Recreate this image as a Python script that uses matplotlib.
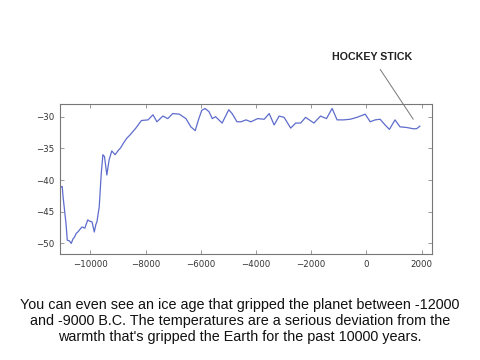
import matplotlib
matplotlib.use("Agg")
import matplotlib.pyplot as plt

years = [-11063, -11020, -10990, -10884, -10836, -10760, -10693, -10630, -10573, -10510, -10454,
         -10380, -10300, -10200, -10096, -10020, -9940, -9857, -9800, -9761, -9678, -9606, -9546,
         -9487, -9403, -9320, -9224, -9104, -8985, -8900, -8806, -8680, -8567, -8352, -8149, -7910,
         -7731, -7588, -7373, -7194, -7015, -6776, -6537, -6358, -6200, -6084, -5964, -5845, -5701,
         -5582, -5463, -5224, -4985, -4865, -4686, -4540, -4360, -4180, -3940, -3700, -3520, -3340,
         -3160, -2980, -2740, -2560, -2380, -2200, -1900, -1660, -1444, -1240, -1060, -820, -580,
         -340, -40, 140, 320, 500, 680, 836, 1040, 1220, 1460, 1700, 1820, 1940]
temps = [-41.1, -41.0, -42.6, -46.8, -49.5, -49.6, -50.0, -49.3, -49.0, -48.4, -48.2,
         -47.8, -47.4, -47.6, -46.3, -46.5, -46.6, -48.2, -47.0, -46.6, -44.2, -39.0, -36.0,
         -36.3, -39.2, -36.8, -35.4, -36.0, -35.3, -34.9, -34.2, -33.4, -32.9, -31.8, -30.6, -30.5,
         -29.7, -30.8, -29.9, -30.3, -29.5, -29.6, -30.3, -31.6, -32.2, -30.5, -29.0, -28.7, -29.2,
         -30.3, -30.0, -31.0, -28.9, -29.5, -30.8, -30.8, -30.5, -30.8, -30.3, -30.4, -29.5, -31.3,
         -29.9, -30.1, -31.8, -31.0, -31.0, -30.1, -31.0, -29.9, -30.3, -28.7, -30.5, -30.5, -30.4,
         -30.1, -29.6, -30.8, -30.5, -30.4, -31.3, -32.0, -30.5, -31.6, -31.7, -31.9, -31.9, -31.5]
xticks = [-10000, -8000, -6000, -4000, -2000, 0, 2000]
yticks = [-50, -45, -40, -35, -30]

fig = plt.figure(figsize=(4.8, 3.6), dpi=100)
ax = fig.add_axes([0.125, 0.294, 0.775, 0.417])
ax.plot(years, temps, color="#5e6ccc", linewidth=0.9)
ax.set_xlim(-11100, 2380)
ax.set_ylim(-51.7, -28.0)
ax.set_xticks(xticks)
ax.set_yticks(yticks)
ax.set_xticklabels([("\u2212" + str(-t)) if t < 0 else str(t) for t in xticks])
ax.set_yticklabels([("\u2212" + str(-t)) for t in yticks])
ax.tick_params(direction="in", length=3, width=0.6, color="#888888", labelsize=6.2,
               labelcolor="#333333", top=True, right=True, pad=4)
for s in ax.spines.values():
    s.set_color("#777777")
    s.set_linewidth(0.8)

ax.annotate("HOCKEY STICK", xy=(1700, -30.4), xycoords="data",
            xytext=(372, 360 - 57), textcoords="figure pixels",
            ha="center", va="center", fontsize=7.7, fontweight="bold",
            family="Liberation Sans", color="#222222",
            arrowprops=dict(arrowstyle="-", color="#777777", lw=0.7,
                            shrinkA=4, shrinkB=0))

caption = ("You can even see an ice age that gripped the planet between -12000\n"
           "and -9000 B.C. The temperatures are a serious deviation from the\n"
           "warmth that's gripped the Earth for the past 10000 years.")
fig.text(0.5, 1 - 321 / 360, caption, ha="center", va="center", fontsize=10.4,
         family="Liberation Sans", color="#111111", linespacing=1.2)

fig.savefig("out.png", dpi=100)
